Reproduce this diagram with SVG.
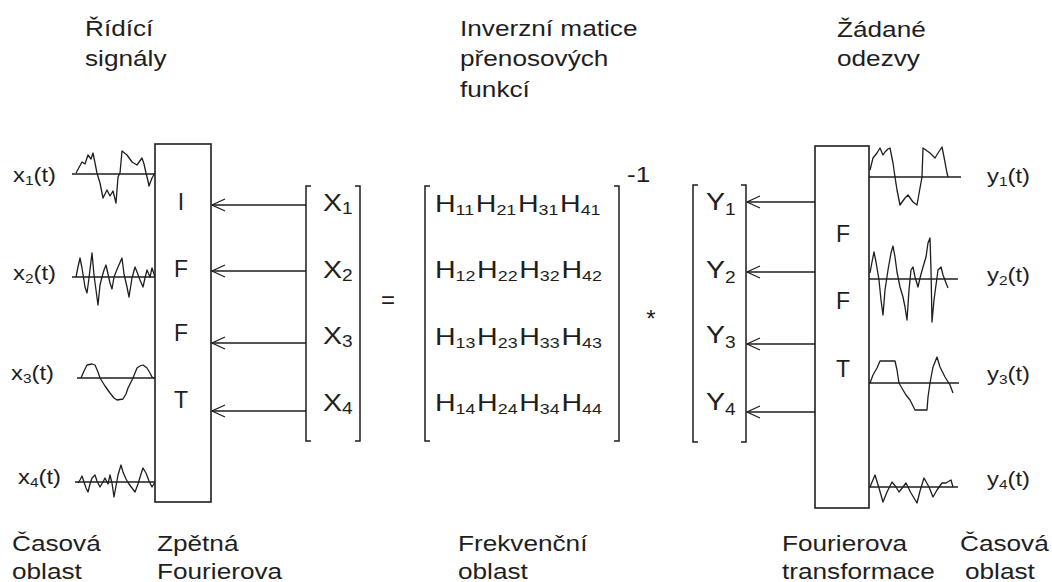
<svg xmlns="http://www.w3.org/2000/svg" width="1052" height="582" viewBox="0 0 1052 582">
<defs>
<style>
text { font-family: "Liberation Sans", Arial, sans-serif; fill: #1e1e1e; }
.lbl { font-size: 22px; }
.sig { font-size: 20px; }
.sig .sb { font-size: 13px; }
.mat { font-size: 24px; }
.mat .sb { font-size: 16px; }
.mat .hs { font-size: 15px; }
.blk { font-size: 23px; text-anchor: middle; }
.box { fill: #fff; stroke: #1e1e1e; stroke-width: 1.6; }
.ax { stroke: #1e1e1e; stroke-width: 1.5; fill: none; }
.wv { stroke: #1e1e1e; stroke-width: 1.3; fill: none; stroke-linejoin: round; }
.br { stroke: #1e1e1e; stroke-width: 1.5; fill: none; }
.conn { stroke: #1e1e1e; stroke-width: 1.4; fill: none; }
</style>
<marker id="ah" markerUnits="userSpaceOnUse" markerWidth="16" markerHeight="16" viewBox="-15 -8 16 16" refX="0" refY="0" orient="auto">
<path d="M-13,-6 L0,0 L-13,6" fill="none" stroke="#1e1e1e" stroke-width="1.2"/>
</marker>
</defs>
<rect width="1052" height="582" fill="#fff"/>

<!-- top labels -->
<g id="lbl-ridici">
<text class="lbl" transform="translate(85 36) scale(1.19 1)">Řídící</text>
<text class="lbl" transform="translate(85 66) scale(1.19 1)">signály</text>
</g>
<g id="lbl-inverzni">
<text class="lbl" transform="translate(460 36) scale(1.19 1)">Inverzní matice</text>
<text class="lbl" transform="translate(460 66) scale(1.19 1)">přenosových</text>
<text class="lbl" transform="translate(460 97) scale(1.19 1)">funkcí</text>
</g>
<g id="lbl-zadane">
<text class="lbl" transform="translate(837 37) scale(1.19 1)">Žádané</text>
<text class="lbl" transform="translate(837 66) scale(1.19 1)">odezvy</text>
</g>

<!-- bottom labels -->
<g id="lbl-casova-l">
<text class="lbl" transform="translate(12 551) scale(1.19 1)">Časová</text>
<text class="lbl" transform="translate(12 579) scale(1.19 1)">oblast</text>
</g>
<g id="lbl-zpetna">
<text class="lbl" transform="translate(157 551) scale(1.19 1)">Zpětná</text>
<text class="lbl" transform="translate(157 579) scale(1.19 1)">Fourierova</text>
</g>
<g id="lbl-frekvencni">
<text class="lbl" transform="translate(458 551) scale(1.19 1)">Frekvenční</text>
<text class="lbl" transform="translate(458 579) scale(1.19 1)">oblast</text>
</g>
<g id="lbl-fourierova">
<text class="lbl" transform="translate(782 551) scale(1.19 1)">Fourierova</text>
<text class="lbl" transform="translate(782 579) scale(1.19 1)">transformace</text>
</g>
<g id="lbl-casova-r">
<text class="lbl" transform="translate(960 551) scale(1.19 1)">Časová</text>
<text class="lbl" transform="translate(965 579) scale(1.19 1)">oblast</text>
</g>

<!-- left time signals -->
<g id="sig-x1">
<text class="sig" transform="translate(13 182) scale(1.19 1)">x<tspan class="sb" dy="3">1</tspan><tspan dy="-3">(t)</tspan></text>
<line class="ax" x1="72" y1="174" x2="155" y2="174"/>
<polyline class="wv" points="76,173 82,162 85,164 88,155 91,159 93,153 95,163 97,173 100,183 103,198 107,190 110,196 113,191 116,203 118,177 120,173 122,151 127,155 132,162 137,165 142,158 144,164 146,173 148,181 149,186 152,178 155,173"/>
</g>
<g id="sig-x2">
<text class="sig" transform="translate(13 280) scale(1.19 1)">x<tspan class="sb" dy="3">2</tspan><tspan dy="-3">(t)</tspan></text>
<line class="ax" x1="72" y1="277" x2="155" y2="277"/>
<polyline class="wv" points="76,277 78,267 80,258 82,268 85,287 87,293 89,278 92,253 94,275 96,290 98,305 100,285 102,277 104,270 106,265 108,274 110,283 112,289 114,277 116,272 118,267 122,258 124,274 127,287 129,297 132,278 135,267 137,272 140,280 143,287 145,278 147,270 150,277 152,268 155,277"/>
</g>
<g id="sig-x3">
<text class="sig" transform="translate(11 380) scale(1.19 1)">x<tspan class="sb" dy="3">3</tspan><tspan dy="-3">(t)</tspan></text>
<line class="ax" x1="77" y1="378" x2="155" y2="378"/>
<polyline class="wv" points="81,378 84,371 87,365 92,364 95,365 98,372 100,378 105,386 110,393 114,398 117,400 123,399 126,394 128,388 131,382 133,378 137,368 140,366 143,365 147,368 150,373 152,377 154,378"/>
</g>
<g id="sig-x4">
<text class="sig" transform="translate(18 484) scale(1.19 1)">x<tspan class="sb" dy="3">4</tspan><tspan dy="-3">(t)</tspan></text>
<line class="ax" x1="75" y1="482" x2="155" y2="482"/>
<polyline class="wv" points="78,483 80,480 82,476 84,482 86,488 88,492 90,484 92,478 95,475 97,481 100,487 103,482 105,478 108,484 110,475 112,483 114,497 116,486 118,475 121,465 123,472 126,479 129,484 132,488 135,492 138,484 141,474 143,468 146,473 149,481 152,487 155,482"/>
</g>

<!-- IFFT block -->
<g id="ifft">
<rect class="box" x="155" y="144" width="56" height="358"/>
<text class="blk" x="181" y="210">I</text>
<text class="blk" x="181" y="277">F</text>
<text class="blk" x="181" y="341">F</text>
<text class="blk" x="181" y="408">T</text>
</g>

<!-- X vector -->
<g id="vec-x">
<path class="br" d="M311,186 H306 V441 H311"/>
<path class="br" d="M355,186 H360 V441 H355"/>
<text class="mat" transform="translate(323 211) scale(1.19 1)">X<tspan class="sb" dy="3">1</tspan></text>
<text class="mat" transform="translate(323 278) scale(1.19 1)">X<tspan class="sb" dy="3">2</tspan></text>
<text class="mat" transform="translate(323 344) scale(1.19 1)">X<tspan class="sb" dy="3">3</tspan></text>
<text class="mat" transform="translate(323 411) scale(1.19 1)">X<tspan class="sb" dy="3">4</tspan></text>
</g>

<g id="eq">
<text class="mat" text-anchor="middle" x="388" y="308">=</text>
</g>

<!-- H matrix -->
<g id="mat-h">
<path class="br" d="M430,186 H425 V441 H430"/>
<path class="br" d="M614,186 H619 V441 H614"/>
<text class="mat" transform="translate(435 212) scale(1.19 1)">H<tspan class="hs" dy="3">11</tspan><tspan dx="1.4" dy="-3">H</tspan><tspan class="hs" dy="3">21</tspan><tspan dx="1.4" dy="-3">H</tspan><tspan class="hs" dy="3">31</tspan><tspan dx="1.4" dy="-3">H</tspan><tspan class="hs" dy="3">41</tspan></text>
<text class="mat" transform="translate(435 278) scale(1.19 1)">H<tspan class="hs" dy="3">12</tspan><tspan dx="1.4" dy="-3">H</tspan><tspan class="hs" dy="3">22</tspan><tspan dx="1.4" dy="-3">H</tspan><tspan class="hs" dy="3">32</tspan><tspan dx="1.4" dy="-3">H</tspan><tspan class="hs" dy="3">42</tspan></text>
<text class="mat" transform="translate(435 345) scale(1.19 1)">H<tspan class="hs" dy="3">13</tspan><tspan dx="1.4" dy="-3">H</tspan><tspan class="hs" dy="3">23</tspan><tspan dx="1.4" dy="-3">H</tspan><tspan class="hs" dy="3">33</tspan><tspan dx="1.4" dy="-3">H</tspan><tspan class="hs" dy="3">43</tspan></text>
<text class="mat" transform="translate(435 411) scale(1.19 1)">H<tspan class="hs" dy="3">14</tspan><tspan dx="1.4" dy="-3">H</tspan><tspan class="hs" dy="3">24</tspan><tspan dx="1.4" dy="-3">H</tspan><tspan class="hs" dy="3">34</tspan><tspan dx="1.4" dy="-3">H</tspan><tspan class="hs" dy="3">44</tspan></text>
<text class="lbl" transform="translate(627 182) scale(1.19 1)">-1</text>
</g>

<g id="mul">
<text class="mat" text-anchor="middle" x="651" y="327">*</text>
</g>

<!-- Y vector -->
<g id="vec-y">
<path class="br" d="M698,185 H693 V442 H698"/>
<path class="br" d="M741,185 H746 V442 H741"/>
<text class="mat" transform="translate(706 210) scale(1.19 1)">Y<tspan class="sb" dy="5">1</tspan></text>
<text class="mat" transform="translate(706 278) scale(1.19 1)">Y<tspan class="sb" dy="5">2</tspan></text>
<text class="mat" transform="translate(706 343) scale(1.19 1)">Y<tspan class="sb" dy="5">3</tspan></text>
<text class="mat" transform="translate(706 410) scale(1.19 1)">Y<tspan class="sb" dy="5">4</tspan></text>
</g>

<!-- FFT block -->
<g id="fft">
<rect class="box" x="815" y="146" width="54" height="362"/>
<text class="blk" x="843" y="242">F</text>
<text class="blk" x="843" y="309">F</text>
<text class="blk" x="843" y="377">T</text>
</g>

<!-- right time signals -->
<g id="sig-y1">
<line class="ax" x1="869" y1="177" x2="961" y2="177"/>
<polyline class="wv" points="870,170 873,158 877,153 880,148 883,155 885,152 888,149 890,148 893,163 895,177 897,190 900,205 905,198 908,195 913,202 917,205 920,188 922,177 923,148 930,153 935,158 938,153 942,147 944,157 947,173 948,177"/>
<text class="sig" transform="translate(987 183) scale(1.19 1)">y<tspan class="sb" dy="3">1</tspan><tspan dy="-3">(t)</tspan></text>
</g>
<g id="sig-y2">
<line class="ax" x1="869" y1="279" x2="958" y2="279"/>
<polyline class="wv" points="870,273 872,262 874,252 876,262 879,280 881,300 883,315 885,290 888,270 891,253 893,246 895,257 897,272 900,287 903,297 905,307 907,320 909,290 911,270 913,267 915,277 918,287 920,278 923,267 926,257 928,243 930,238 931,270 932,322 934,300 936,285 938,270 941,267 943,275 946,283 948,288"/>
<text class="sig" transform="translate(987 282) scale(1.19 1)">y<tspan class="sb" dy="3">2</tspan><tspan dy="-3">(t)</tspan></text>
</g>
<g id="sig-y3">
<line class="ax" x1="869" y1="383" x2="959" y2="383"/>
<polyline class="wv" points="870,383 873,375 877,368 880,361 883,361 895,361 897,370 899,383 903,390 906,395 910,400 915,410 927,410 928,397 930,383 933,367 937,357 940,367 945,377 950,385 953,393"/>
<text class="sig" transform="translate(987 381) scale(1.19 1)">y<tspan class="sb" dy="3">3</tspan><tspan dy="-3">(t)</tspan></text>
</g>
<g id="sig-y4">
<line class="ax" x1="869" y1="487" x2="958" y2="487"/>
<polyline class="wv" points="870,487 875,475 879,488 883,502 887,492 892,482 896,487 899,492 903,487 906,483 911,493 917,503 920,491 924,478 929,487 933,497 937,490 942,483 946,483 951,480 953,487"/>
<text class="sig" transform="translate(987 486) scale(1.19 1)">y<tspan class="sb" dy="3">4</tspan><tspan dy="-3">(t)</tspan></text>
</g>

<!-- connectors -->
<g id="connectors">
<path class="conn" d="M306,205 H212" marker-end="url(#ah)"/>
<path class="conn" d="M306,271 H212" marker-end="url(#ah)"/>
<path class="conn" d="M306,343 H212" marker-end="url(#ah)"/>
<path class="conn" d="M306,411 H212" marker-end="url(#ah)"/>
<path class="conn" d="M815,202 H747" marker-end="url(#ah)"/>
<path class="conn" d="M815,272 H747" marker-end="url(#ah)"/>
<path class="conn" d="M815,344 H747" marker-end="url(#ah)"/>
<path class="conn" d="M815,412 H747" marker-end="url(#ah)"/>
</g>
</svg>
